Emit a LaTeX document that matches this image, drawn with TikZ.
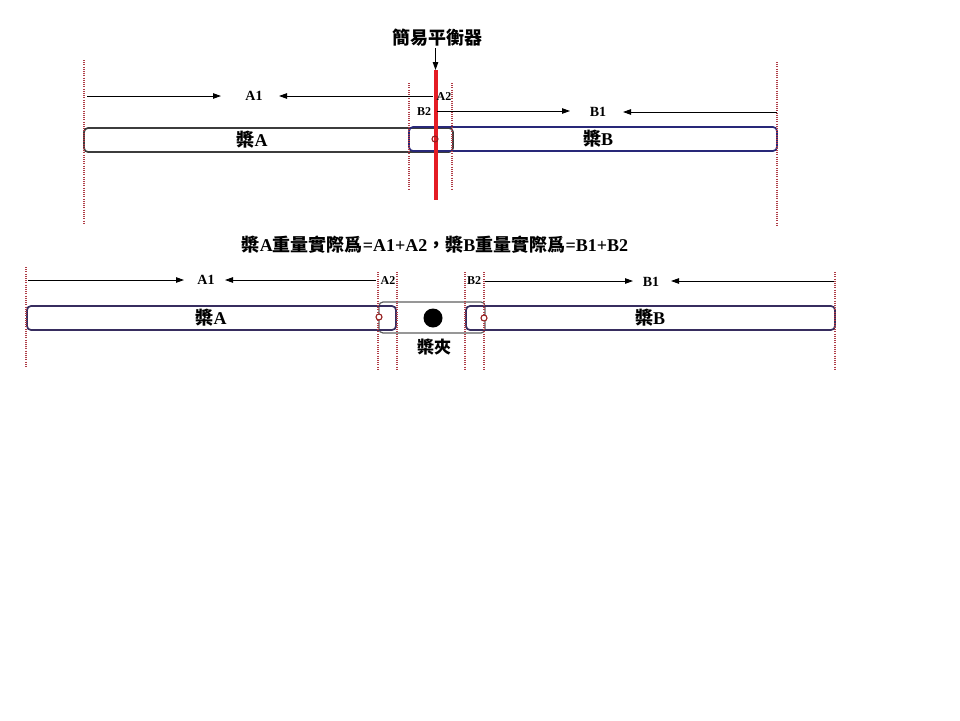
\documentclass[tikz,border=0pt]{standalone}
\usepackage{fontspec}
\setmainfont{Liberation Serif}
\newfontfamily\cjk{Noto Sans CJK TC}
\usetikzlibrary{arrows.meta}
\definecolor{redline}{RGB}{228,28,36}
\definecolor{dotred}{RGB}{175,60,70}
\definecolor{boxgray}{RGB}{60,60,60}
\definecolor{boxnavy}{RGB}{40,40,120}
\definecolor{boxdark}{RGB}{55,45,95}
\definecolor{clipgray}{RGB}{95,95,95}
\definecolor{pivotred}{RGB}{150,30,30}
\begin{document}
\begin{tikzpicture}[x=1pt,y=-1pt,
  guide/.style={draw=dotred, dash pattern=on 1pt off 1.2pt, line width=1.3pt},
  paddlebox/.style={rectangle, rounded corners=4pt, line width=1.7pt, inner sep=0pt, outer sep=0pt, minimum height=24pt},
  arr/.style={-{Triangle[length=8pt,width=5.5pt]}, line width=0.9pt, black},
  bigtxt/.style={inner sep=0pt, font=\fontsize{18}{20}\selectfont\bfseries},
  lbl/.style={inner sep=0pt, font=\fontsize{14}{16}\selectfont\bfseries},
  smalllbl/.style={inner sep=0pt, font=\fontsize{12}{14}\selectfont\bfseries},
  pivot/.style={circle, draw=pivotred, line width=1.1pt, minimum size=6pt, inner sep=0pt},
]
\useasboundingbox (0,0) rectangle (960,720);

% ================= TOP =================
\node[bigtxt] (title1) at (437,38) {\cjk 簡易平衡器};

% boxes
\node[paddlebox, draw=boxgray, minimum width=369pt] (tA) at (268.5,140) {};
\node[paddlebox, draw=boxnavy, minimum width=368pt] (tB) at (593,139) {};

% guides
\coordinate (g1a) at (84,60);   \coordinate (g1b) at (84,225);
\coordinate (g2a) at (777,62);  \coordinate (g2b) at (777,225);
\coordinate (g3a) at (409,83);  \coordinate (g3b) at (409,190);
\coordinate (g4a) at (452,83);  \coordinate (g4b) at (452,190);
\draw[guide] (g1a) -- (g1b);
\draw[guide] (g2a) -- (g2b);
\draw[guide] (g3a) -- (g3b);
\draw[guide] (g4a) -- (g4b);

% red balancer rod
\coordinate (rodtop) at (435.5,70);
\coordinate (rodbot) at (435.5,200);
\coordinate (rodarr) at (435.5,48);
\draw[draw=redline, line width=4pt] (rodtop) -- (rodbot);
\draw[arr] (rodarr) -- (rodtop);
\node[pivot] (tpiv) at (435,139) {};

% labels
\node[lbl] (tA1) at (254,96) {A1};
\node[smalllbl] (tA2) at (444,97) {A2};
\node[smalllbl] (tB2) at (424,112) {B2};
\node[lbl] (tB1) at (598,112) {B1};
\node[bigtxt] (tAl) at (252,140) {{\cjk 槳}A};
\node[bigtxt] (tBl) at (598,139) {{\cjk 槳}B};

% arrows
\coordinate (a1s) at (87,96);   \coordinate (a1e) at (221,96);
\coordinate (a2s) at (433,96);  \coordinate (a2e) at (279,96);
\coordinate (b2s) at (437,111); \coordinate (b2e) at (570,111);
\coordinate (b1s) at (777,112); \coordinate (b1e) at (623,112);
\draw[arr] (a1s) -- (a1e);
\draw[arr] (a2s) -- (a2e);
\draw[arr] (b2s) -- (b2e);
\draw[arr] (b1s) -- (b1e);

% ================= BOTTOM =================
\node[bigtxt] (title2) at (435,245) {{\cjk 槳}A{\cjk 重量實際爲}=A1+A2{\cjk ，槳}B{\cjk 重量實際爲}=B1+B2};

% clip box and paddles
\node[rectangle, rounded corners=4pt, draw=clipgray, line width=1.2pt, minimum width=106pt, minimum height=31pt, inner sep=0pt] (clip) at (432,317.5) {};
\node[paddlebox, draw=boxdark, minimum width=369pt] (bA) at (211.5,318) {};
\node[paddlebox, draw=boxdark, minimum width=369pt] (bB) at (650.5,318) {};
\node[circle, fill=black, minimum size=19pt, inner sep=0pt] (bdot) at (433,318) {};

% guides
\coordinate (h1a) at (26,267);  \coordinate (h1b) at (26,367);
\coordinate (h2a) at (835,272); \coordinate (h2b) at (835,370);
\coordinate (h3a) at (378,272); \coordinate (h3b) at (378,369);
\coordinate (h4a) at (397,272); \coordinate (h4b) at (397,369);
\coordinate (h5a) at (465,272); \coordinate (h5b) at (465,369);
\coordinate (h6a) at (484,272); \coordinate (h6b) at (484,369);
\draw[guide] (h1a) -- (h1b);
\draw[guide] (h2a) -- (h2b);
\draw[guide] (h3a) -- (h3b);
\draw[guide] (h4a) -- (h4b);
\draw[guide] (h5a) -- (h5b);
\draw[guide] (h6a) -- (h6b);

\node[pivot, fill=white] (bpivA) at (379,317) {};
\node[pivot, fill=white] (bpivB) at (484,318) {};

% labels
\node[lbl] (bA1) at (206,280) {A1};
\node[smalllbl] (bA2) at (388,281) {A2};
\node[smalllbl] (bB2) at (474,281) {B2};
\node[lbl] (bB1) at (651,282) {B1};
\node[bigtxt] (bAl) at (211,318) {{\cjk 槳}A};
\node[bigtxt] (bBl) at (650,318) {{\cjk 槳}B};
\node[bigtxt, font=\fontsize{17}{19}\selectfont\bfseries] (bclip) at (434,347) {\cjk 槳夾};

% arrows
\coordinate (c1s) at (28,280);  \coordinate (c1e) at (184,280);
\coordinate (c2s) at (376,280); \coordinate (c2e) at (225,280);
\coordinate (d2s) at (485,281); \coordinate (d2e) at (633,281);
\coordinate (d1s) at (834,281); \coordinate (d1e) at (671,281);
\draw[arr] (c1s) -- (c1e);
\draw[arr] (c2s) -- (c2e);
\draw[arr] (d2s) -- (d2e);
\draw[arr] (d1s) -- (d1e);
\end{tikzpicture}
\end{document}
